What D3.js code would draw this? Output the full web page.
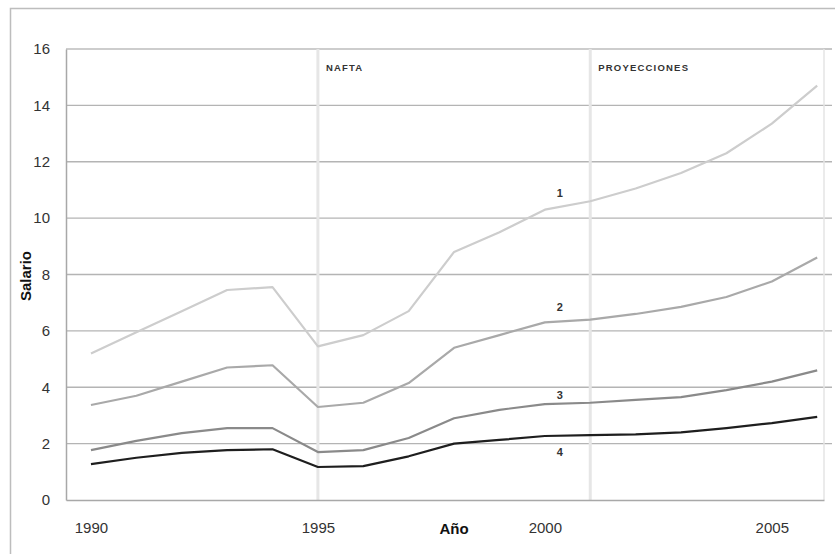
<!DOCTYPE html>
<html><head><meta charset="utf-8">
<script src="https://cdn.jsdelivr.net/npm/d3@7"></script>
<style>body{margin:0;background:#fff}svg{display:block}text{font-family:Arial,"Liberation Sans",sans-serif}</style>
</head><body><svg id="c" width="835" height="554"></svg>
<script>
const years = [1990,1991,1992,1993,1994,1995,1996,1997,1998,1999,2000,2001,2002,2003,2004,2005,2006];
const serie1 = [5.2,5.95,6.7,7.45,7.55,5.45,5.85,6.7,8.8,9.5,10.3,10.6,11.05,11.6,12.3,13.35,14.7];
const serie2 = [3.37,3.7,4.2,4.7,4.78,3.3,3.45,4.15,5.4,5.85,6.3,6.4,6.6,6.85,7.2,7.75,8.6];
const serie3 = [1.77,2.1,2.37,2.55,2.55,1.7,1.77,2.2,2.9,3.2,3.4,3.45,3.55,3.65,3.9,4.2,4.6];
const serie4 = [1.27,1.5,1.67,1.77,1.8,1.17,1.2,1.55,2.0,2.13,2.27,2.3,2.33,2.4,2.55,2.73,2.95];
const seriesNames = ["1","2","3","4"];
const yTicks = [0,2,4,6,8,10,12,14,16];
const xTicks = [1990,1995,2000,2005];
const markers = [{year:1995,label:"NAFTA"},{year:2001,label:"PROYECCIONES"}];

const svg = d3.select("#c");
const L=66, R=824, T=49, B=500;
const x = d3.scaleLinear().domain([1989.45,2006.15]).range([L,R]);
const y = d3.scaleLinear().domain([0,16]).range([B,T]);

// outer frame
svg.append("rect").attr("x",10.5).attr("y",8.5).attr("width",840).attr("height",560)
  .attr("fill","none").attr("stroke","#bdbdbd").attr("stroke-width",1.5);

// gridlines
svg.append("g").selectAll("line").data(yTicks.filter(d=>d>0)).join("line")
  .attr("x1",L).attr("x2",R+8).attr("y1",d=>y(d)).attr("y2",d=>y(d))
  .attr("stroke","#b4b4b4").attr("stroke-width",1.3);
svg.append("line").attr("x1",L).attr("x2",R).attr("y1",T).attr("y2",T).attr("stroke","#cfcfcf").attr("stroke-width",1.5);
svg.append("line").attr("x1",R).attr("x2",R).attr("y1",T).attr("y2",B).attr("stroke","#e4e4e4").attr("stroke-width",1.5);

// vertical markers
svg.append("g").selectAll("line").data(markers).join("line")
  .attr("x1",d=>x(d.year)).attr("x2",d=>x(d.year)).attr("y1",T).attr("y2",B)
  .attr("stroke","#e6e6e6").attr("stroke-width",3);
svg.append("g").selectAll("text").data(markers).join("text")
  .attr("x",d=>x(d.year)+8).attr("y",T+22).text(d=>d.label)
  .attr("font-size",9.5).attr("font-weight","bold").attr("letter-spacing",1.2).attr("fill","#333");

// axes
const yAxis = svg.append("g").attr("transform",`translate(${L},0)`)
  .call(d3.axisLeft(y).tickValues(yTicks).tickSize(0).tickPadding(16));
yAxis.select(".domain").attr("stroke","#a8a8a8").attr("stroke-width",1.5);
yAxis.selectAll("text").attr("font-size",15).attr("fill","#333").attr("font-family","Arial,'Liberation Sans',sans-serif");

const xAxis = svg.append("g").attr("transform",`translate(0,${B})`)
  .call(d3.axisBottom(x).tickValues(xTicks).tickFormat(d3.format("d")).tickSize(0).tickPadding(22));
xAxis.select(".domain").attr("stroke","#a8a8a8").attr("stroke-width",1.5);
xAxis.selectAll("text").attr("font-size",15).attr("fill","#333").attr("font-family","Arial,'Liberation Sans',sans-serif");

svg.append("text").attr("x",454).attr("y",534).attr("text-anchor","middle")
  .attr("font-size",15).attr("font-weight","bold").attr("fill","#111").text("Año");
svg.append("text").attr("transform","translate(31,276) rotate(-90)").attr("text-anchor","middle")
  .attr("font-size",15).attr("font-weight","bold").attr("fill","#111").text("Salario");

// lines
const data = [serie1,serie2,serie3,serie4];
const colors = ["#cdcdcd","#a9a9a9","#8a8a8a","#1e1e1e"];
const line = d3.line().x((d,i)=>x(years[i])).y(d=>y(d));
svg.append("g").selectAll("path").data(data).join("path")
  .attr("d",line).attr("fill","none").attr("stroke",(d,i)=>colors[i]).attr("stroke-width",2.2)
  .attr("stroke-linejoin","round");

// series labels
const labelOffsets = [0.6,0.55,0.32,-0.57];
svg.append("g").selectAll("text").data(data).join("text")
  .attr("x",x(2000)+15).attr("y",(d,i)=>y(d[10]+labelOffsets[i])+4)
  .attr("text-anchor","middle").attr("font-size",11).attr("font-weight","bold").attr("fill","#333")
  .text((d,i)=>seriesNames[i]);
</script></body></html>
